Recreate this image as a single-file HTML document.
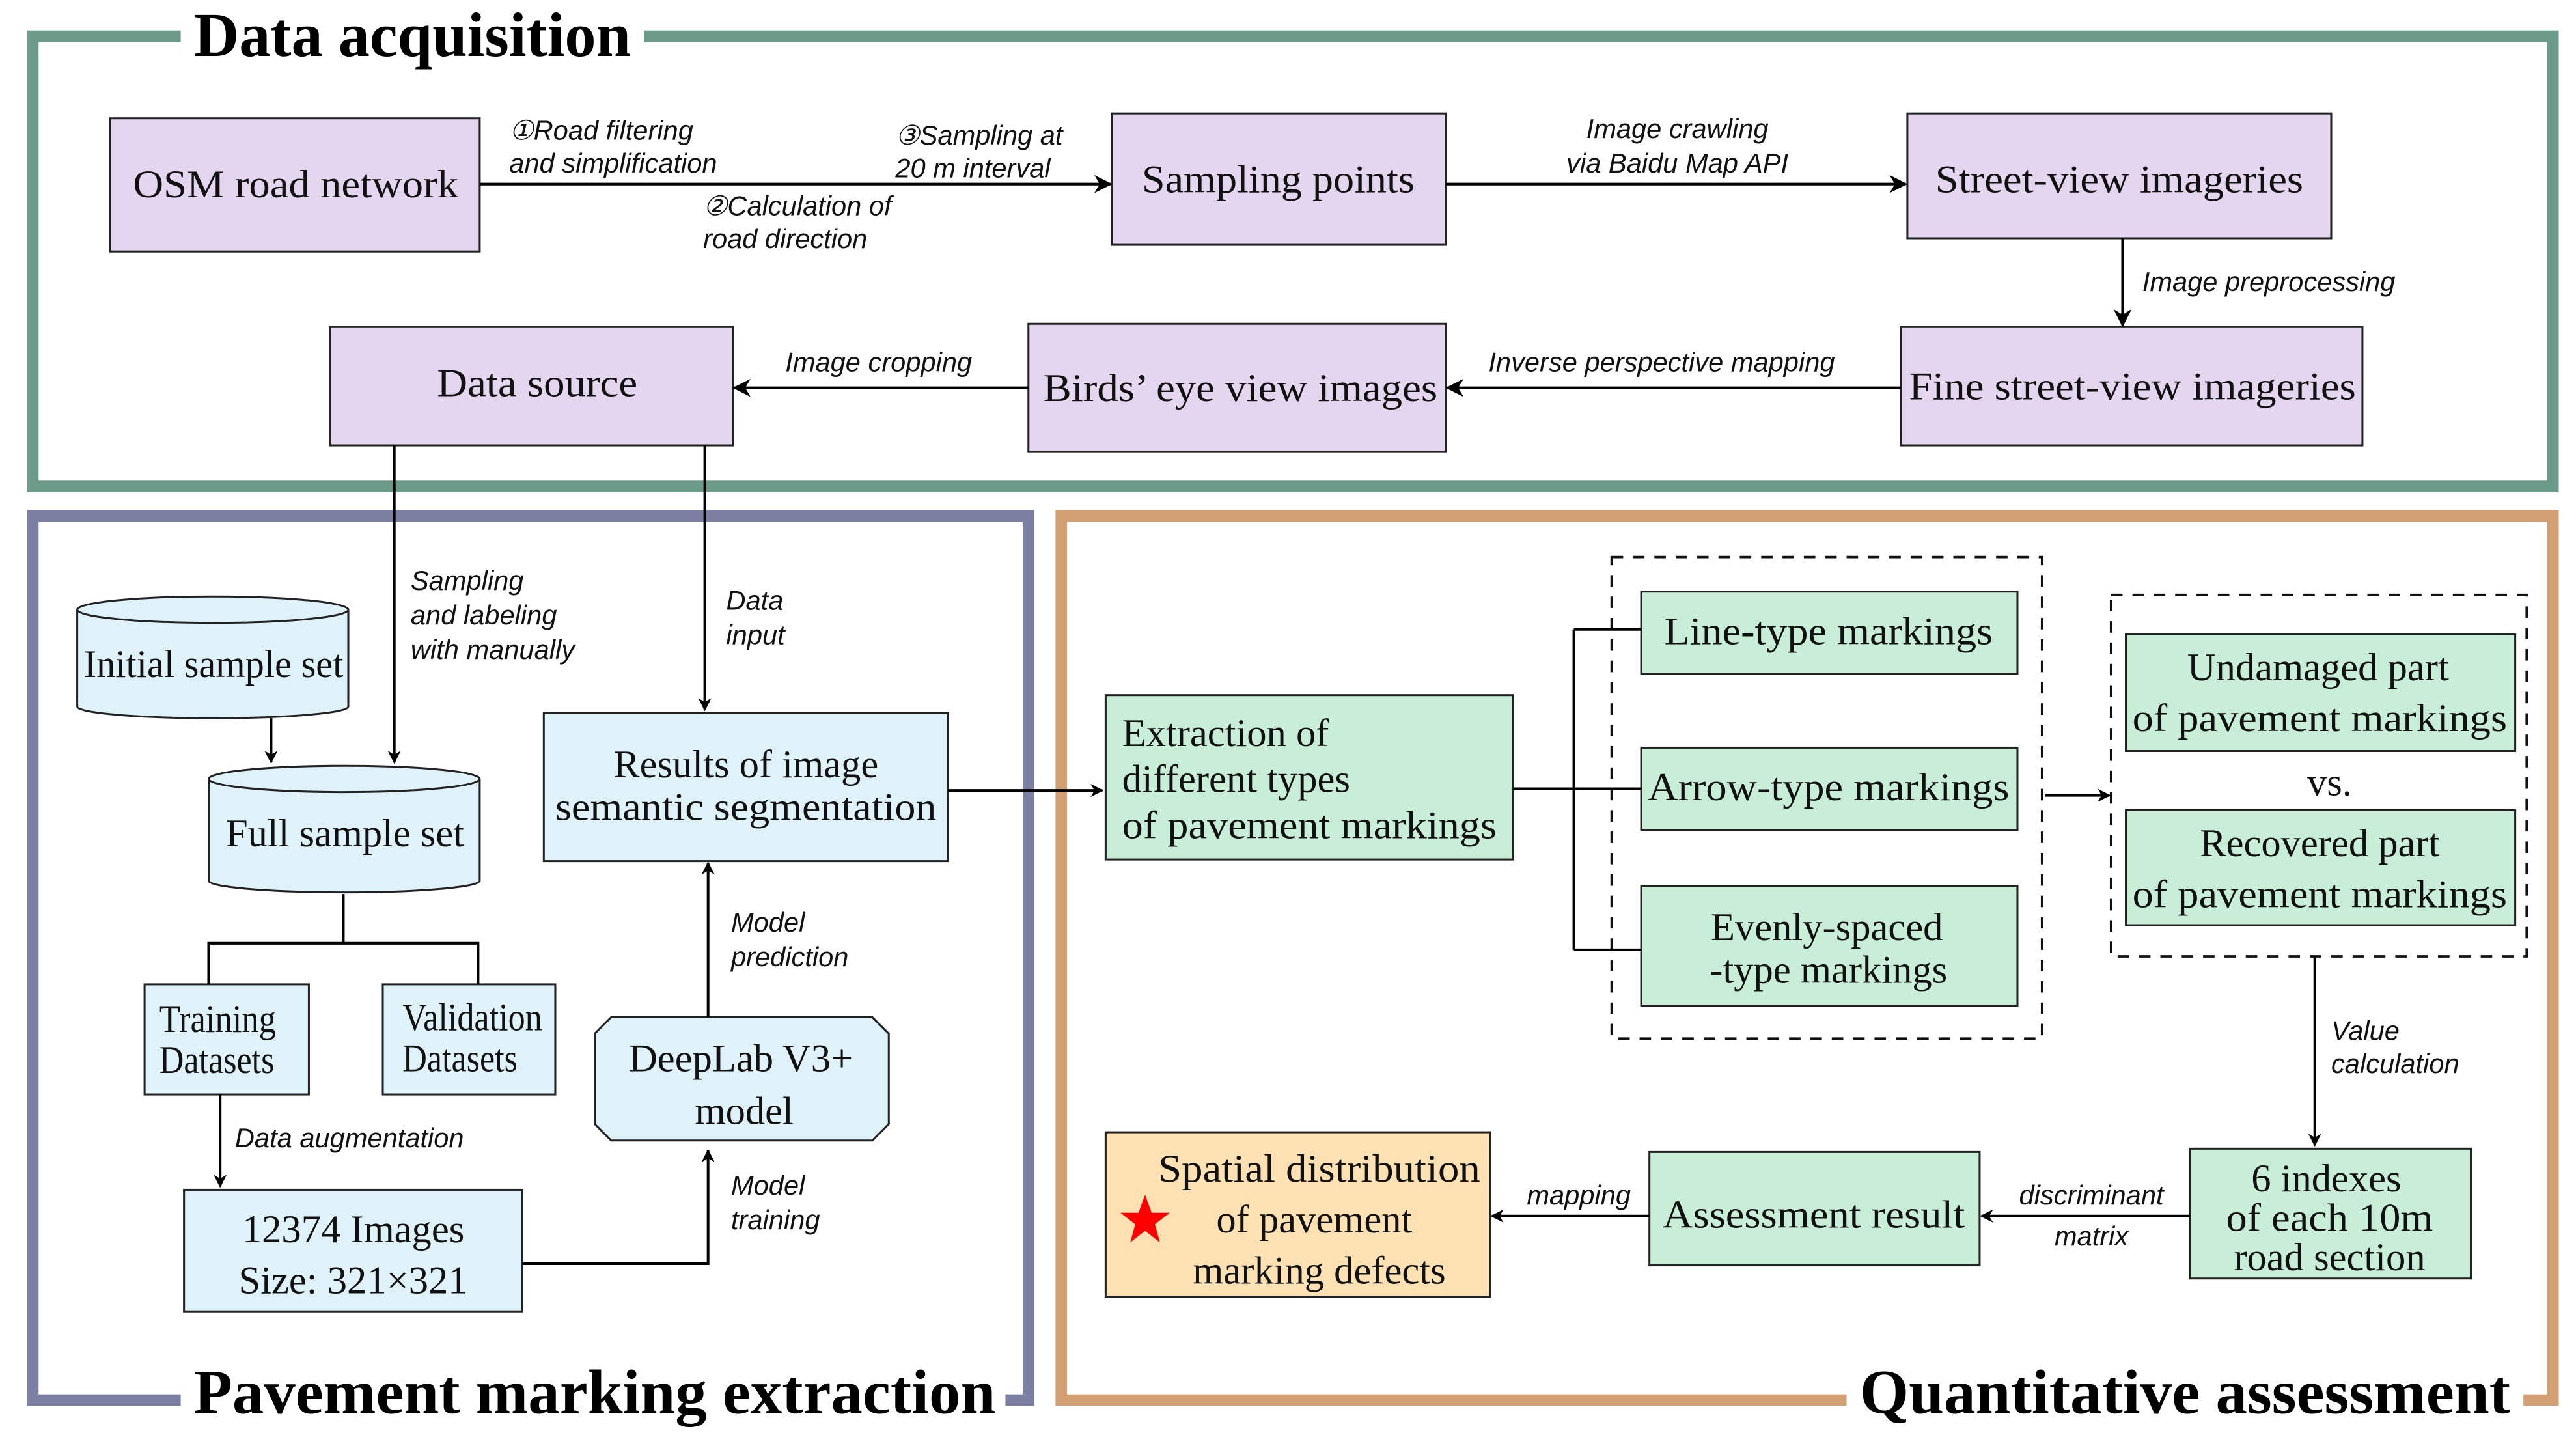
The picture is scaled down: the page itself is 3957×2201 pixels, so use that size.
<!DOCTYPE html>
<html><head><meta charset="utf-8"><style>
html,body{margin:0;padding:0;background:#fff;}
svg{display:block;}
.s{font-family:"Liberation Serif",serif;font-size:24px;fill:#111;}
.i{font-family:"Liberation Sans",sans-serif;font-style:italic;font-size:16.5px;fill:#111;}
.t{font-family:"Liberation Serif",serif;font-weight:bold;font-size:38px;fill:#000;}
.b{stroke:#222;stroke-width:1.2;}
.l{stroke:#000;stroke-width:1.6;fill:none;}
</style></head><body>
<svg width="3957" height="2201" viewBox="0 0 1568 872" preserveAspectRatio="none" xmlns="http://www.w3.org/2000/svg">
<defs><marker id="a" viewBox="0 0 10 10" refX="9" refY="5" markerWidth="8" markerHeight="8" markerUnits="userSpaceOnUse" orient="auto"><path d="M0,0 L10,5 L0,10 L3,5 z" fill="#000"/></marker>
<marker id="a2" viewBox="0 0 10 10" refX="9" refY="5" markerWidth="11" markerHeight="11" markerUnits="userSpaceOnUse" orient="auto"><path d="M0,0 L10,5 L0,10 L3,5 z" fill="#000"/></marker></defs>
<rect x="20" y="22" width="1534" height="274" fill="none" stroke="#6b9a89" stroke-width="7"/>
<rect x="20" y="314" width="606" height="538" fill="none" stroke="#7b7fa2" stroke-width="7"/>
<rect x="646" y="314" width="908" height="538" fill="none" stroke="#d3a073" stroke-width="7"/>
<rect x="110" y="5" width="282" height="30" fill="#fff"/>
<rect x="110" y="835" width="502" height="35" fill="#fff"/>
<rect x="1124" y="835" width="412" height="35" fill="#fff"/>
<text class="t" x="118" y="34" textLength="266" lengthAdjust="spacingAndGlyphs">Data acquisition</text>
<text class="t" x="118" y="860" textLength="488" lengthAdjust="spacingAndGlyphs">Pavement marking extraction</text>
<text class="t" x="1132" y="860" textLength="396" lengthAdjust="spacingAndGlyphs">Quantitative assessment</text>
<g fill="#e3d6ee" class="b">
<rect x="67" y="72" width="225" height="81"/>
<rect x="677" y="69" width="203" height="80"/>
<rect x="1161" y="69" width="258" height="76"/>
<rect x="1157" y="199" width="281" height="72"/>
<rect x="626" y="197" width="254" height="78"/>
<rect x="201" y="199" width="245" height="72"/>
</g>
<text class="s" x="180" y="120" text-anchor="middle" font-size="26" textLength="198" lengthAdjust="spacingAndGlyphs">OSM road network</text>
<text class="s" x="778" y="117" text-anchor="middle" font-size="26" textLength="166" lengthAdjust="spacingAndGlyphs">Sampling points</text>
<text class="s" x="1290" y="117" text-anchor="middle" font-size="26" textLength="224" lengthAdjust="spacingAndGlyphs">Street-view imageries</text>
<text class="s" x="1298" y="243" text-anchor="middle" font-size="26" textLength="272" lengthAdjust="spacingAndGlyphs">Fine street-view imageries</text>
<text class="s" x="755" y="244" text-anchor="middle" font-size="26" textLength="240" lengthAdjust="spacingAndGlyphs">Birds’ eye view images</text>
<text class="s" x="327" y="241" text-anchor="middle" font-size="26" textLength="122" lengthAdjust="spacingAndGlyphs">Data source</text>
<line class="l" x1="292" y1="112" x2="676" y2="112" marker-end="url(#a2)"/>
<line class="l" x1="880" y1="112" x2="1160" y2="112" marker-end="url(#a2)"/>
<line class="l" x1="1292" y1="145" x2="1292" y2="198" marker-end="url(#a2)"/>
<line class="l" x1="1157" y1="236" x2="881" y2="236" marker-end="url(#a2)"/>
<line class="l" x1="626" y1="236" x2="447" y2="236" marker-end="url(#a2)"/>
<text class="i" x="310" y="85">①Road filtering</text>
<text class="i" x="310" y="105">and simplification</text>
<text class="i" x="545" y="88">③Sampling at</text>
<text class="i" x="545" y="108">20 m interval</text>
<text class="i" x="428" y="131">②Calculation of</text>
<text class="i" x="428" y="151">road direction</text>
<text class="i" x="1021" y="84" text-anchor="middle">Image crawling</text>
<text class="i" x="1021" y="105" text-anchor="middle">via Baidu Map API</text>
<text class="i" x="1304" y="177">Image preprocessing</text>
<text class="i" x="906" y="226">Inverse perspective mapping</text>
<text class="i" x="478" y="226">Image cropping</text>
<line class="l" x1="240" y1="271" x2="240" y2="464" marker-end="url(#a)"/>
<line class="l" x1="429" y1="271" x2="429" y2="432" marker-end="url(#a)"/>
<text class="i" x="250" y="359">Sampling</text>
<text class="i" x="250" y="380">and labeling</text>
<text class="i" x="250" y="401">with manually</text>
<text class="i" x="442" y="371">Data</text>
<text class="i" x="442" y="392">input</text>
<g fill="#dff2fa" class="b">
<path d="M47,371 L47,430 A82.5,7 0 0 0 212,430 L212,371"/>
<ellipse cx="129.5" cy="371" rx="82.5" ry="8"/>
<path d="M127,474 L127,536 A82.5,7 0 0 0 292,536 L292,474"/>
<ellipse cx="209.5" cy="474" rx="82.5" ry="8"/>
<rect x="331" y="434" width="246" height="90"/>
<rect x="88" y="599" width="100" height="67"/>
<rect x="233" y="599" width="105" height="67"/>
<rect x="112" y="724" width="206" height="74"/>
<path d="M372,619 L531,619 L541,629 L541,684 L531,694 L372,694 L362,684 L362,629 z"/>
</g>
<text class="s" x="130" y="412" text-anchor="middle" font-size="23" textLength="158" lengthAdjust="spacingAndGlyphs">Initial sample set</text>
<text class="s" x="210" y="515" text-anchor="middle" font-size="23" textLength="145" lengthAdjust="spacingAndGlyphs">Full sample set</text>
<text class="s" x="454" y="473" text-anchor="middle">Results of image</text>
<text class="s" x="454" y="499" text-anchor="middle" textLength="232" lengthAdjust="spacingAndGlyphs">semantic segmentation</text>
<text class="s" x="97" y="628" font-size="20" textLength="71" lengthAdjust="spacingAndGlyphs">Training</text>
<text class="s" x="97" y="653" font-size="20" textLength="70" lengthAdjust="spacingAndGlyphs">Datasets</text>
<text class="s" x="245" y="627" font-size="20" textLength="85" lengthAdjust="spacingAndGlyphs">Validation</text>
<text class="s" x="245" y="652" font-size="20" textLength="70" lengthAdjust="spacingAndGlyphs">Datasets</text>
<text class="s" x="215" y="756" text-anchor="middle">12374 Images</text>
<text class="s" x="215" y="787" text-anchor="middle">Size: 321×321</text>
<text class="s" x="451" y="652" text-anchor="middle">DeepLab V3+</text>
<text class="s" x="453" y="684" text-anchor="middle">model</text>
<line class="l" x1="165" y1="437" x2="165" y2="464" marker-end="url(#a)"/>
<path class="l" d="M209,544 L209,574 M127,599 L127,574 L291,574 L291,599"/>
<line class="l" x1="134" y1="666" x2="134" y2="722" marker-end="url(#a)"/>
<text class="i" x="143" y="698">Data augmentation</text>
<path class="l" d="M318,769 L431,769 L431,700" marker-end="url(#a)"/>
<line class="l" x1="431" y1="619" x2="431" y2="525" marker-end="url(#a)"/>
<text class="i" x="445" y="567">Model</text>
<text class="i" x="445" y="588">prediction</text>
<text class="i" x="445" y="727">Model</text>
<text class="i" x="445" y="748">training</text>
<line class="l" x1="577" y1="481" x2="671" y2="481" marker-end="url(#a)"/>
<g fill="#c9eed7" class="b">
<rect x="673" y="423" width="248" height="100"/>
<rect x="999" y="360" width="229" height="50"/>
<rect x="999" y="455" width="229" height="50"/>
<rect x="999" y="539" width="229" height="73"/>
<rect x="1294" y="386" width="237" height="71"/>
<rect x="1294" y="493" width="237" height="70"/>
<rect x="1333" y="699" width="171" height="79"/>
<rect x="1004" y="701" width="201" height="69"/>
</g>
<rect x="673" y="689" width="234" height="100" fill="#fde1b3" class="b"/>
<rect x="981" y="339" width="262" height="293" fill="none" stroke="#111" stroke-width="1.5" stroke-dasharray="7,6"/>
<rect x="1285" y="362" width="253" height="220" fill="none" stroke="#111" stroke-width="1.5" stroke-dasharray="7,6"/>
<text class="s" x="683" y="454">Extraction of</text>
<text class="s" x="683" y="482">different types</text>
<text class="s" x="683" y="510" textLength="228" lengthAdjust="spacingAndGlyphs">of pavement markings</text>
<text class="s" x="1113" y="392" text-anchor="middle" textLength="200" lengthAdjust="spacingAndGlyphs">Line-type markings</text>
<text class="s" x="1113" y="487" text-anchor="middle" textLength="220" lengthAdjust="spacingAndGlyphs">Arrow-type markings</text>
<text class="s" x="1112" y="572" text-anchor="middle">Evenly-spaced</text>
<text class="s" x="1113" y="598" text-anchor="middle">-type markings</text>
<text class="s" x="1411" y="414" text-anchor="middle">Undamaged part</text>
<text class="s" x="1412" y="445" text-anchor="middle" textLength="228" lengthAdjust="spacingAndGlyphs">of pavement markings</text>
<text class="s" x="1418" y="484" text-anchor="middle">vs.</text>
<text class="s" x="1412" y="521" text-anchor="middle">Recovered part</text>
<text class="s" x="1412" y="552" text-anchor="middle" textLength="228" lengthAdjust="spacingAndGlyphs">of pavement markings</text>
<text class="s" x="1416" y="725" text-anchor="middle">6 indexes</text>
<text class="s" x="1418" y="749" text-anchor="middle" textLength="126" lengthAdjust="spacingAndGlyphs">of each 10m</text>
<text class="s" x="1418" y="773" text-anchor="middle">road section</text>
<text class="s" x="1104" y="747" text-anchor="middle" textLength="184" lengthAdjust="spacingAndGlyphs">Assessment result</text>
<text class="s" x="803" y="719" text-anchor="middle" textLength="196" lengthAdjust="spacingAndGlyphs">Spatial distribution</text>
<text class="s" x="800" y="750" text-anchor="middle">of pavement</text>
<text class="s" x="803" y="781" text-anchor="middle">marking defects</text>
<polygon points="697,727 701,738 712,738 703,745 706,756 697,749 688,756 691,745 682,738 693,738" fill="#f00"/>
<path class="l" d="M921,480 L999,480 M958,383 L958,578 M958,383 L999,383 M958,578 L999,578"/>
<line class="l" x1="1245" y1="484" x2="1284" y2="484" marker-end="url(#a)"/>
<line class="l" x1="1409" y1="582" x2="1409" y2="697" marker-end="url(#a)"/>
<text class="i" x="1419" y="633">Value</text>
<text class="i" x="1419" y="653">calculation</text>
<line class="l" x1="1333" y1="740" x2="1206" y2="740" marker-end="url(#a)"/>
<text class="i" x="1273" y="733" text-anchor="middle">discriminant</text>
<text class="i" x="1273" y="758" text-anchor="middle">matrix</text>
<line class="l" x1="1004" y1="740" x2="908" y2="740" marker-end="url(#a)"/>
<text class="i" x="961" y="733" text-anchor="middle">mapping</text>
</svg>
</body></html>
